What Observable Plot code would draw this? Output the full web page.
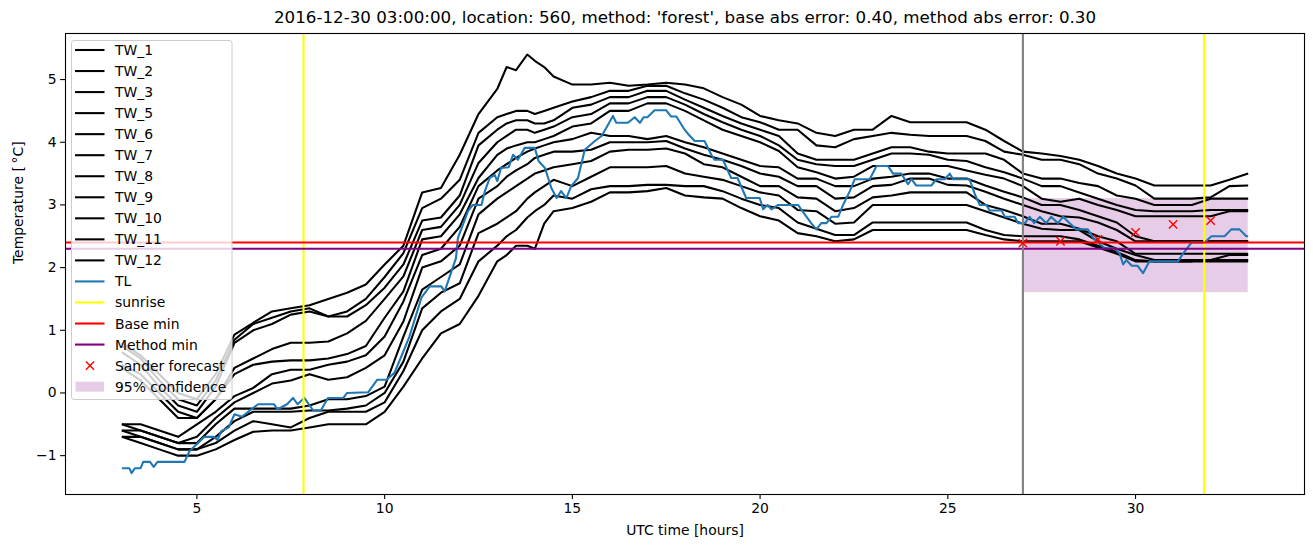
<!DOCTYPE html>
<html><head><meta charset="utf-8">
<script src="https://cdn.jsdelivr.net/npm/d3@7"></script>
<script src="https://cdn.jsdelivr.net/npm/@observablehq/plot@0.6"></script>
<style>html,body{margin:0;padding:0;background:#fff;overflow:hidden;}</style>
</head><body><div id="chart"></div>
<script>
// ---------- data ----------
const titleText = "2016-12-30 03:00:00, location: 560, method: 'forest', base abs error: 0.40, method abs error: 0.30";
const xLabel = "UTC time [hours]";
const yLabel = "Temperature [\u2009\u00B0C]";
const xTicks = [5, 10, 15, 20, 25, 30];
const yTicks = [-1, 0, 1, 2, 3, 4, 5];

const twNames = ["TW_1","TW_2","TW_3","TW_5","TW_6","TW_7","TW_8","TW_9","TW_10","TW_11","TW_12"];
const hours = [3,3.5,4,4.5,5,5.5,6,6.5,7,7.5,8,8.5,9,9.5,10,10.5,11,11.5,12,12.5,13,13.25,13.5,13.8,14,14.25,14.5,15,15.5,16,16.5,17,17.5,18,18.5,19,19.5,20,20.5,21,21.5,22,22.5,23,23.5,24,24.5,25,25.5,26,26.5,27,27.5,28,28.5,29,29.5,30,30.5,31,31.5,32,32.5,33];

const tw1 = [0.8,0.6,0.3,0.0,-0.1,0.3,0.93,1.12,1.3,1.35,1.4,1.5,1.6,1.73,2.05,2.35,3.2,3.27,3.8,4.45,4.85, 5.2,5.15,5.4,5.3,5.2,5.05, 4.92,4.92,4.95,4.9,4.92,4.95,4.92,4.86,4.72,4.6,4.42,4.35,4.3,4.15,4.1,4.2,4.2,4.42,4.32,4.32,4.32,4.32,4.2,4.02,3.85,3.82,3.78,3.72,3.62,3.5,3.42,3.31,3.31,3.31,3.31,3.4,3.5];
const tw2 = [0.75,0.55,0.2,-0.1,-0.2,0.2,0.85,1.1,1.2,1.3,1.35,1.22,1.3,1.5,1.85,2.23,2.95,3.1,3.4,4.15,4.4, 4.45,4.5,4.5,4.45,4.5,4.55, 4.65,4.72,4.82,4.82,4.9,4.9,4.78,4.68,4.55,4.4,4.32,4.2,4.2,3.95,3.92,4.05,4.1,4.15,4.12,4.1,4.1,4.1,4.02,3.85,3.8,3.72,3.72,3.65,3.5,3.42,3.31,3.1,3.1,3.1,3.12,3.3,3.31];
const tw3 = [0.65,0.45,0.1,-0.2,-0.3,0.1,0.8,1.0,1.1,1.25,1.3,1.22,1.22,1.4,1.68,2.05,2.75,2.8,3.15,3.95,4.2, 4.3,4.35,4.35,4.3,4.3,4.35, 4.55,4.6,4.72,4.72,4.82,4.82,4.68,4.55,4.42,4.3,4.2,4.1,3.82,3.72,3.72,3.72,3.82,3.92,3.92,3.85,3.82,3.82,3.82,3.72,3.5,3.42,3.42,3.35,3.3,3.15,3.1,3.0,3.0,3.0,3.1,3.1,3.1];
const tw5 = [0.45,0.3,0.0,-0.3,-0.4,-0.1,0.4,0.55,0.7,0.8,0.8,0.82,0.95,1.15,1.5,1.86,2.6,2.65,3.0,3.67,4.0, 4.1,4.2,4.2,4.15,4.2,4.25, 4.4,4.45,4.62,4.62,4.72,4.72,4.6,4.45,4.32,4.2,4.1,3.95,3.72,3.65,3.62,3.62,3.72,3.82,3.82,3.8,3.72,3.7,3.6,3.52,3.42,3.3,3.3,3.2,3.1,3.0,2.92,2.9,2.9,2.9,2.92,2.92,2.92];
const tw6 = [0.4,0.2,-0.1,-0.4,-0.4,-0.1,0.3,0.45,0.5,0.52,0.52,0.55,0.62,0.75,1.2,1.62,2.45,2.5,2.85,3.43,3.8, 3.9,3.95,4.0,4.0,4.05,4.1, 4.25,4.3,4.5,4.5,4.62,4.62,4.5,4.35,4.2,4.1,4.0,3.86,3.6,3.52,3.42,3.45,3.62,3.62,3.62,3.62,3.62,3.55,3.48,3.42,3.3,3.1,3.05,3.1,3.0,2.92,2.82,2.82,2.82,2.82,2.82,2.9,2.9];
const tw7 = [-0.5,-0.5,-0.6,-0.7,-0.5,-0.3,-0.05,0.08,0.3,0.37,0.37,0.45,0.5,0.6,0.9,1.46,2.2,2.3,2.65,3.3,3.55, 3.65,3.75,3.85,3.9,3.95,4.0, 4.05,4.15,4.1,4.1,4.05,4.1,4.0,3.92,3.82,3.72,3.62,3.6,3.42,3.42,3.3,3.3,3.42,3.45,3.5,3.5,3.42,3.42,3.31,3.21,3.12,3.0,3.0,2.92,2.82,2.72,2.5,2.42,2.42,2.42,2.42,2.42,2.42];
const tw8 = [-0.5,-0.6,-0.7,-0.8,-0.7,-0.4,-0.15,0.0,0.15,0.2,0.3,0.21,0.25,0.4,0.6,1.14,2.0,2.1,2.35,3.1,3.3, 3.45,3.55,3.65,3.75,3.8,3.85, 3.85,3.88,4.0,4.0,4.0,4.02,3.9,3.8,3.72,3.62,3.5,3.45,3.3,3.3,3.1,3.12,3.3,3.32,3.42,3.42,3.32,3.31,3.21,3.1,3.0,2.9,2.82,2.8,2.72,2.6,2.42,2.42,2.42,2.42,2.42,2.42,2.42];
const tw9 = [-0.6,-0.6,-0.7,-0.8,-0.8,-0.5,-0.25,-0.25,-0.25,-0.25,-0.2,-0.1,-0.1,-0.05,0.1,0.9,1.65,1.85,2.05,2.85,3.1, 3.2,3.3,3.42,3.5,3.55,3.6, 3.65,3.7,3.85,3.88,3.88,3.9,3.82,3.65,3.6,3.45,3.3,3.3,3.12,3.1,2.9,2.95,3.12,3.15,3.2,3.2,3.2,3.2,3.0,2.92,2.82,2.7,2.7,2.62,2.5,2.42,2.22,2.22,2.22,2.22,2.22,2.22,2.22];
const tw10 = [-0.6,-0.7,-0.8,-0.9,-0.9,-0.7,-0.45,-0.3,-0.3,-0.3,-0.28,-0.28,-0.25,-0.2,0.0,0.5,1.35,1.6,1.75,2.55,2.7, 2.8,2.9,3.1,3.2,3.3,3.4, 3.3,3.45,3.6,3.6,3.6,3.62,3.5,3.45,3.4,3.3,3.2,3.15,2.92,2.9,2.7,2.72,3.0,3.0,3.0,3.0,3.0,3.0,2.9,2.8,2.7,2.62,2.6,2.6,2.42,2.3,2.2,2.12,2.12,2.12,2.12,2.2,2.2];
const tw11 = [-0.7,-0.7,-0.8,-0.9,-0.9,-0.8,-0.6,-0.45,-0.5,-0.55,-0.4,-0.3,-0.3,-0.3,-0.15,0.35,1.0,1.3,1.5,2.1,2.35, 2.5,2.6,2.8,2.9,3.0,3.15, 3.1,3.25,3.3,3.3,3.32,3.32,3.3,3.3,3.22,3.1,3.0,2.95,2.72,2.62,2.52,2.52,2.72,2.72,2.72,2.72,2.72,2.72,2.6,2.52,2.5,2.5,2.5,2.45,2.35,2.25,2.12,2.1,2.1,2.1,2.12,2.12,2.12];
const tw12 = [-0.7,-0.8,-0.9,-1.0,-1.0,-0.9,-0.75,-0.62,-0.6,-0.6,-0.55,-0.5,-0.5,-0.5,-0.3,0.1,0.55,0.95,1.1,1.55,2.1, 2.2,2.35,2.35,2.3,2.7,2.9, 2.95,3.05,3.2,3.2,3.22,3.27,3.15,3.12,3.1,2.95,2.82,2.75,2.55,2.5,2.42,2.45,2.6,2.6,2.6,2.6,2.6,2.6,2.52,2.45,2.42,2.42,2.42,2.42,2.32,2.22,2.1,2.1,2.1,2.1,2.1,2.1,2.1];

const tlHours = [3.0,3.2,3.26,3.35,3.5,3.57,3.75,3.85,3.95,4.67,4.8,5.03,5.2,5.45,5.55,5.65,5.85,6.0,6.2,6.45,6.63,7.05,7.15,7.4,7.56,7.68,7.86,8.1,8.3,8.49,8.9,9.0,9.56,9.8,10.05,10.26,10.45,10.66,10.98,11.2,11.51,11.6,11.78,11.9,11.95,12.22,12.35,12.58,12.67,12.8,12.93,13.0,13.1,13.3,13.42,13.55,13.73,14.0,14.1,14.27,14.44,14.58,14.7,14.84,14.97,15.15,15.33,15.6,15.78,15.95,16.08,16.17,16.48,16.66,16.8,16.9,17.0,17.19,17.5,17.63,17.77,17.99,18.1,18.26,18.52,18.7,18.79,19.01,19.23,19.4,19.63,19.99,20.08,20.2,20.3,20.48,21.01,21.19,21.36,21.5,21.63,21.77,21.9,22.08,22.21,22.39,22.52,22.92,23.1,23.41,23.54,23.76,23.94,24.03,24.16,24.56,24.7,24.92,25.05,25.14,25.58,25.72,25.85,26.03,26.11,26.43,26.52,26.78,26.87,27.05,27.18,27.3,27.45,27.62,27.75,27.93,28.07,28.24,28.42,28.73,28.9,29.18,29.44,29.58,29.67,29.75,29.9,30.05,30.2,30.37,31.13,31.26,31.49,31.84,32.02,32.37,32.55,32.77,32.95,33.0];
const tlValues = [-1.2,-1.2,-1.28,-1.2,-1.2,-1.1,-1.1,-1.18,-1.1,-1.1,-0.93,-0.8,-0.7,-0.7,-0.75,-0.61,-0.55,-0.34,-0.38,-0.26,-0.18,-0.18,-0.26,-0.18,-0.08,-0.18,-0.08,-0.28,-0.28,-0.08,-0.08,0.0,0.01,0.21,0.21,0.32,0.59,0.9,1.52,1.7,1.7,1.62,1.94,2.15,2.47,2.9,3.0,3.0,3.22,3.43,3.48,3.38,3.59,3.6,3.8,3.72,3.91,3.91,3.7,3.59,3.27,3.11,3.22,3.11,3.3,3.43,3.88,4.02,4.1,4.28,4.42,4.31,4.31,4.4,4.31,4.4,4.4,4.51,4.51,4.41,4.41,4.2,4.12,4.02,4.02,3.8,3.72,3.72,3.43,3.43,3.11,3.11,2.93,3.0,2.93,3.0,3.0,2.85,2.71,2.61,2.71,2.71,2.81,2.81,3.0,3.22,3.41,3.41,3.62,3.62,3.5,3.5,3.33,3.41,3.31,3.31,3.41,3.41,3.5,3.41,3.41,3.17,3.0,3.0,2.91,2.91,2.81,2.81,2.71,2.71,2.81,2.71,2.81,2.71,2.81,2.71,2.81,2.71,2.61,2.61,2.45,2.31,2.31,2.22,2.05,2.12,2.03,2.03,1.91,2.1,2.1,2.22,2.4,2.4,2.5,2.5,2.61,2.61,2.5,2.5];

const sunriseHours = [7.84, 31.83];
const forecastStart = [27];
const baseMin = [2.4];
const methodMin = [2.3];
const forecastHours = [27, 28, 29, 30, 31, 32];
const forecastValues = [2.39, 2.42, 2.45, 2.56, 2.69, 2.75];
const confHours = [27, 33];
const confLow = [1.6];
const confHigh = [3.1];

// ---------- build tables ----------
const twSeries = [tw1, tw2, tw3, tw5, tw6, tw7, tw8, tw9, tw10, tw11, tw12];
const twData = twSeries.flatMap((vals, s) => vals.map((v, i) => ({series: twNames[s], hour: hours[i], value: v})));
const tlData = tlHours.map((h, i) => ({hour: h, value: tlValues[i]}));
const fcData = forecastHours.map((h, i) => ({hour: h, value: forecastValues[i]}));
const confData = [{x1: confHours[0], x2: confHours[1], y1: confLow[0], y2: confHigh[0]}];

const TL_COLOR = "#1f77b4";
const LW = 2.08;
const fmt = d => d < 0 ? "\u2212" + Math.abs(d) : String(d);

const chart = Plot.plot({
  width: 1313,
  height: 547,
  marginLeft: 65,
  marginRight: 9,
  marginTop: 33,
  marginBottom: 53,
  style: {fontFamily: "'DejaVu Sans', sans-serif", fontSize: "13.9px", background: "white", color: "black"},
  x: {domain: [1.5, 34.5]},
  y: {domain: [-1.62, 5.735]},
  marks: [
    Plot.rect(confData, {x1: "x1", x2: "x2", y1: "y1", y2: "y2", fill: "purple", fillOpacity: 0.2}),
    Plot.line(twData, {x: "hour", y: "value", z: "series", stroke: "black", strokeWidth: LW, strokeLinejoin: "round", strokeLinecap: "butt"}),
    Plot.line(tlData, {x: "hour", y: "value", stroke: TL_COLOR, strokeWidth: LW, strokeLinejoin: "round", strokeLinecap: "butt"}),
    Plot.ruleX(sunriseHours, {stroke: "yellow", strokeWidth: LW}),
    Plot.ruleY(baseMin, {stroke: "red", strokeWidth: LW}),
    Plot.ruleY(methodMin, {stroke: "purple", strokeWidth: LW}),
    Plot.ruleX(forecastStart, {stroke: "grey", strokeWidth: LW}),
    Plot.dot(fcData, {x: "hour", y: "value", symbol: "times", stroke: "red", r: 3.9, strokeWidth: 1.4}),
    Plot.frame({stroke: "black", strokeWidth: 1.1}),
    Plot.axisX({ticks: xTicks, tickSize: 4.9, tickPadding: 4, tickFormat: fmt, label: null, strokeWidth: 1.1}),
    Plot.axisY({ticks: yTicks, tickSize: 4.9, tickPadding: 4, tickFormat: fmt, label: null, strokeWidth: 1.1}),
    Plot.text([titleText], {text: d => d, frameAnchor: "top", dy: -16, fontSize: 16.7, lineAnchor: "middle"}),
    Plot.text([xLabel], {text: d => d, frameAnchor: "bottom", dy: 36, lineAnchor: "middle"}),
    Plot.text([yLabel], {text: d => d, frameAnchor: "left", dx: -47, rotate: -90, lineAnchor: "middle"})
  ]
});

document.getElementById("chart").appendChild(chart);

// ---------- legend (matplotlib style, upper left) ----------
const legendItems = [
  ...twNames.map(n => ({label: n, type: "line", color: "black"})),
  {label: "TL", type: "line", color: TL_COLOR},
  {label: "sunrise", type: "line", color: "yellow"},
  {label: "Base min", type: "line", color: "red"},
  {label: "Method min", type: "line", color: "purple"},
  {label: "Sander forecast", type: "x", color: "red"},
  {label: "95% confidence", type: "patch", color: "purple"}
];
const svg = d3.select(chart);
const lg = svg.append("g")
  .attr("font-family", "'DejaVu Sans', sans-serif")
  .attr("font-size", "13.9px")
  .attr("text-anchor", "start");
lg.append("rect")
  .attr("x", 71.5).attr("y", 40.5).attr("width", 160.5).attr("height", 359)
  .attr("rx", 2.8).attr("fill", "white").attr("fill-opacity", 0.8)
  .attr("stroke", "#cccccc").attr("stroke-width", 1);
legendItems.forEach((it, i) => {
  const y = 50 + i * 21.04;
  if (it.type === "line") {
    lg.append("line").attr("x1", 75).attr("x2", 104.5).attr("y1", y).attr("y2", y)
      .attr("stroke", it.color).attr("stroke-width", LW);
  } else if (it.type === "x") {
    const s = 4.1;
    lg.append("path").attr("d", `M${90 - s},${y - s}L${90 + s},${y + s}M${90 - s},${y + s}L${90 + s},${y - s}`)
      .attr("stroke", it.color).attr("stroke-width", 1.4).attr("fill", "none");
  } else {
    lg.append("rect").attr("x", 75.5).attr("y", y - 5).attr("width", 28.5).attr("height", 10)
      .attr("fill", it.color).attr("fill-opacity", 0.2);
  }
  lg.append("text").attr("x", 115).attr("y", y).attr("dy", "0.36em")
    .attr("text-anchor", "start").attr("fill", "black").text(it.label);
});
</script>
</body></html>
